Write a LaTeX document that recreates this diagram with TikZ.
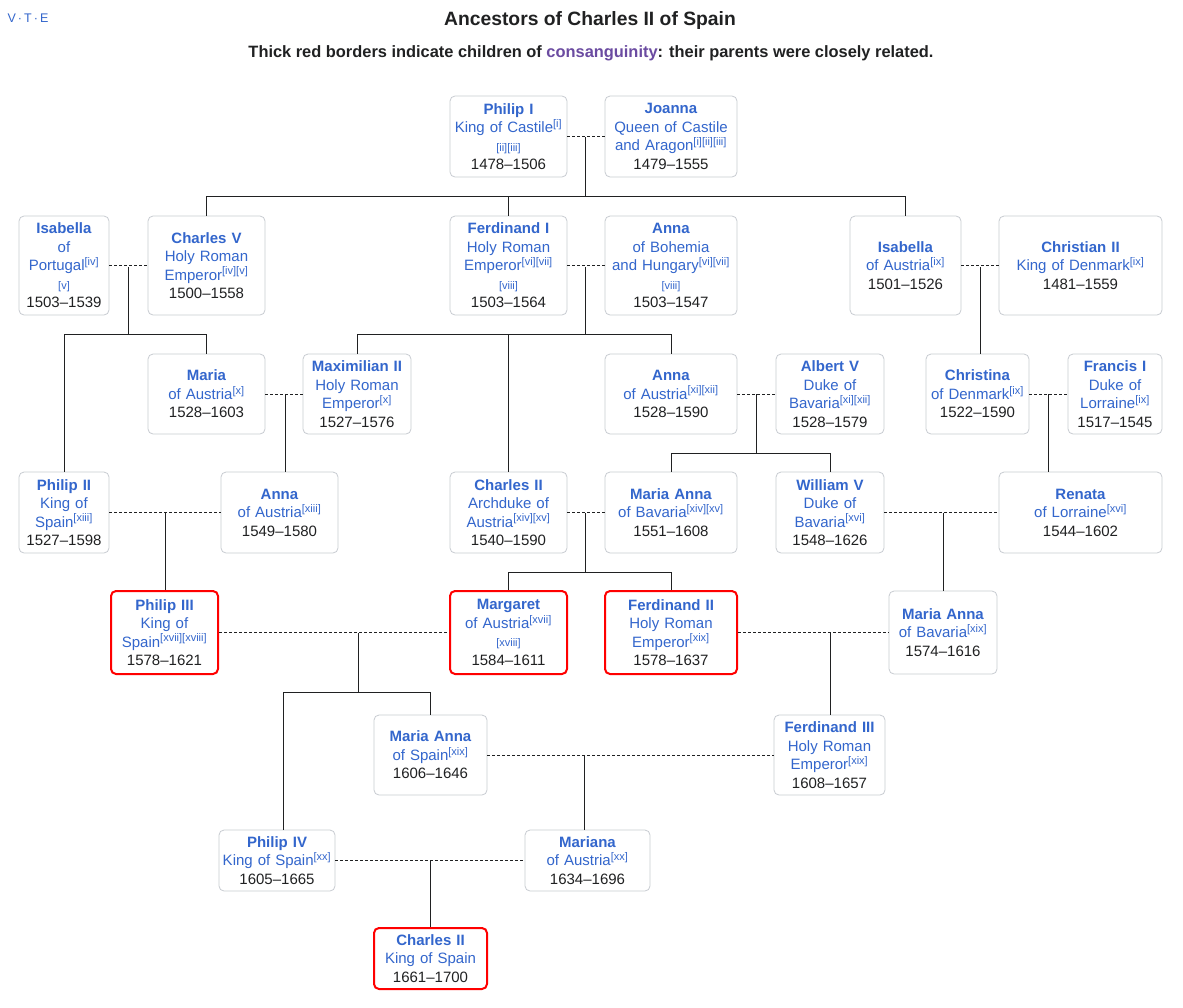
\documentclass[tikz,border=0pt]{standalone}
\usepackage{fontspec}
\setmainfont{Liberation Sans}
\usetikzlibrary{calc}
\definecolor{wblue}{HTML}{3366CC}
\definecolor{wtxt}{HTML}{202122}
\definecolor{wgray}{HTML}{C8CCD1}
\definecolor{wpurp}{HTML}{6B4BA1}
\newcommand\nm[1]{\textbf{#1}}
\newcommand\sps[1]{\textsuperscript{\fontsize{11}{11}\selectfont #1}}
\newcommand\spl[1]{{\fontsize{11}{12}\selectfont #1}}
\newcommand\dte[1]{{\color{wtxt}#1}}
\newcommand\pbx[7][]{%
  \pgfmathsetmacro\bw{#4-#2}\pgfmathsetmacro\bh{#5-#3}\pgfmathsetmacro\tw{#4-#2-2}%
  \pgfmathsetmacro\cx{(#2+#4)/2}\pgfmathsetmacro\cy{(#3+#5)/2}%
  \node[box,#1,minimum width=\bw pt,minimum height=\bh pt,text width=\tw pt] (#6) at (\cx,\cy) {#7};}
\begin{document}
\begin{tikzpicture}[x=1pt,y=-1pt,
  box/.style={draw=wgray,line width=0.8pt,rounded corners=5pt,inner sep=0pt,align=center,
    text=wblue,font=\fontsize{15}{18.5}\selectfont},
  redbox/.style={draw=red,line width=2pt},
  marr/.style={densely dashed,line width=0.7pt,draw=wtxt},
  desc/.style={line width=0.8pt,draw=wtxt}]
\useasboundingbox[fill=white] (0,0) rectangle (1183,1007);
\node[text=wblue,font=\fontsize{12.5}{14}\selectfont] (vte) at (28,18) {V\,·\,T\,·\,E};
\node[text=wtxt,font=\bfseries\fontsize{19.3}{23}\selectfont] (title) at (590,21) {Ancestors of Charles II of Spain};
\node[text=wtxt,font=\bfseries\fontsize{16.4}{19}\selectfont] (sub) at (591,53) {Thick red borders indicate children of \textcolor{wpurp}{consanguinity}: their parents were closely related.};

\pbx{450}{96}{567}{177}{pI}{\nm{Philip I}\\King of Castile\sps{[i]}\\\spl{[ii][iii]}\\\dte{1478–1506}}
\pbx{605}{96}{737}{177}{jo}{\nm{Joanna}\\Queen of Castile\\and Aragon\sps{[i][ii][iii]}\\\dte{1479–1555}}
\pbx{19}{216}{109}{315}{isP}{\nm{Isabella}\\of\\Portugal\sps{[iv]}\\\spl{[v]}\\\dte{1503–1539}}
\pbx{148}{216}{265}{315}{cV}{\nm{Charles V}\\Holy Roman\\Emperor\sps{[iv][v]}\\\dte{1500–1558}}
\pbx{450}{216}{567}{315}{fI}{\nm{Ferdinand I}\\Holy Roman\\Emperor\sps{[vi][vii]}\\\spl{[viii]}\\\dte{1503–1564}}
\pbx{605}{216}{737}{315}{anB}{\nm{Anna}\\of Bohemia\\and Hungary\sps{[vi][vii]}\\\spl{[viii]}\\\dte{1503–1547}}
\pbx{850}{216}{961}{315}{isA}{\nm{Isabella}\\of Austria\sps{[ix]}\\\dte{1501–1526}}
\pbx{999}{216}{1162}{315}{chII}{\nm{Christian II}\\King of Denmark\sps{[ix]}\\\dte{1481–1559}}
\pbx{148}{354}{265}{434}{ma}{\nm{Maria}\\of Austria\sps{[x]}\\\dte{1528–1603}}
\pbx{303}{354}{411}{434}{mx}{\nm{Maximilian II}\\Holy Roman\\Emperor\sps{[x]}\\\dte{1527–1576}}
\pbx{605}{354}{737}{434}{anA}{\nm{Anna}\\of Austria\sps{[xi][xii]}\\\dte{1528–1590}}
\pbx{776}{354}{884}{434}{alV}{\nm{Albert V}\\Duke of\\Bavaria\sps{[xi][xii]}\\\dte{1528–1579}}
\pbx{926}{354}{1029}{434}{chr}{\nm{Christina}\\of Denmark\sps{[ix]}\\\dte{1522–1590}}
\pbx{1068}{354}{1162}{434}{frI}{\nm{Francis I}\\Duke of\\Lorraine\sps{[ix]}\\\dte{1517–1545}}
\pbx{19}{472}{109}{553}{pII}{\nm{Philip II}\\King of\\Spain\sps{[xiii]}\\\dte{1527–1598}}
\pbx{221}{472}{338}{553}{anX}{\nm{Anna}\\of Austria\sps{[xiii]}\\\dte{1549–1580}}
\pbx{450}{472}{567}{553}{chA}{\nm{Charles II}\\Archduke of\\Austria\sps{[xiv][xv]}\\\dte{1540–1590}}
\pbx{605}{472}{737}{553}{maB}{\nm{Maria Anna}\\of Bavaria\sps{[xiv][xv]}\\\dte{1551–1608}}
\pbx{776}{472}{884}{553}{wV}{\nm{William V}\\Duke of\\Bavaria\sps{[xvi]}\\\dte{1548–1626}}
\pbx{999}{472}{1162}{553}{ren}{\nm{Renata}\\of Lorraine\sps{[xvi]}\\\dte{1544–1602}}
\pbx[redbox]{111}{591}{218}{674}{pIII}{\nm{Philip III}\\King of\\Spain\sps{[xvii][xviii]}\\\dte{1578–1621}}
\pbx[redbox]{450}{591}{567}{674}{mar}{\nm{Margaret}\\of Austria\sps{[xvii]}\\\spl{[xviii]}\\\dte{1584–1611}}
\pbx[redbox]{605}{591}{737}{674}{fII}{\nm{Ferdinand II}\\Holy Roman\\Emperor\sps{[xix]}\\\dte{1578–1637}}
\pbx{889}{591}{997}{674}{maX}{\nm{Maria Anna}\\of Bavaria\sps{[xix]}\\\dte{1574–1616}}
\pbx{374}{715}{487}{795}{maS}{\nm{Maria Anna}\\of Spain\sps{[xix]}\\\dte{1606–1646}}
\pbx{774}{715}{885}{795}{fIII}{\nm{Ferdinand III}\\Holy Roman\\Emperor\sps{[xix]}\\\dte{1608–1657}}
\pbx{219}{830}{335}{891}{pIV}{\nm{Philip IV}\\King of Spain\sps{[xx]}\\\dte{1605–1665}}
\pbx{525}{830}{650}{891}{mrn}{\nm{Mariana}\\of Austria\sps{[xx]}\\\dte{1634–1696}}
\pbx[redbox]{374}{928}{487}{989}{cII}{\nm{Charles II}\\King of Spain\\\dte{1661–1700}}

\foreach \a/\b in {pI/jo,isP/cV,fI/anB,isA/chII,ma/mx,anA/alV,chr/frI,
  pII/anX,chA/maB,wV/ren,pIII/mar,fII/maX,maS/fIII,pIV/mrn}{
  \draw[marr] (\a.east) -- (\b.west);}
\coordinate (m1) at (585,137); \coordinate (m2) at (128,267); \coordinate (m3) at (585,267);
\coordinate (m4) at (980,267); \coordinate (m5) at (285,394); \coordinate (m6) at (756,394);
\coordinate (m7) at (1048,394); \coordinate (m8) at (165,513); \coordinate (m9) at (585,513);
\coordinate (m10) at (943,513); \coordinate (m11) at (358,633); \coordinate (m12) at (830,633);
\coordinate (m13) at (584,755); \coordinate (m14) at (430,861);
\coordinate (b1) at (0,196); \coordinate (b2) at (0,334); \coordinate (b3) at (0,453);
\coordinate (b4) at (0,572); \coordinate (b5) at (0,692);
\draw[desc] (m1) -- (m1|-b1);
\draw[desc] (cV.north) -- (cV.north|-b1) -- (isA.north|-b1) -- (isA.north);
\draw[desc] (fI.north) -- (fI.north|-b1);
\draw[desc] (m2) -- (m2|-b2);
\draw[desc] (pII.north) -- (pII.north|-b2) -- (ma.north|-b2) -- (ma.north);
\draw[desc] (m3) -- (m3|-b2);
\draw[desc] (mx.north) -- (mx.north|-b2) -- (anA.north|-b2) -- (anA.north);
\draw[desc] (chA.north) -- (chA.north|-b2);
\draw[desc] (m4) -- (m4|-chr.north);
\draw[desc] (m5) -- (m5|-anX.north);
\draw[desc] (m6) -- (m6|-b3);
\draw[desc] (maB.north) -- (maB.north|-b3) -- (wV.north|-b3) -- (wV.north);
\draw[desc] (m7) -- (m7|-ren.north);
\draw[desc] (m8) -- (m8|-pIII.north);
\draw[desc] (m9) -- (m9|-b4);
\draw[desc] (mar.north) -- (mar.north|-b4) -- (fII.north|-b4) -- (fII.north);
\draw[desc] (m10) -- (m10|-maX.north);
\draw[desc] (m11) -- (m11|-b5);
\coordinate (d1) at (283,692);
\draw[desc] (d1|-pIV.north) -- (d1) -- (maS.north|-b5) -- (maS.north);
\draw[desc] (m12) -- (m12|-fIII.north);
\draw[desc] (m13) -- (m13|-mrn.north);
\draw[desc] (m14) -- (m14|-cII.north);
\end{tikzpicture}
\end{document}
